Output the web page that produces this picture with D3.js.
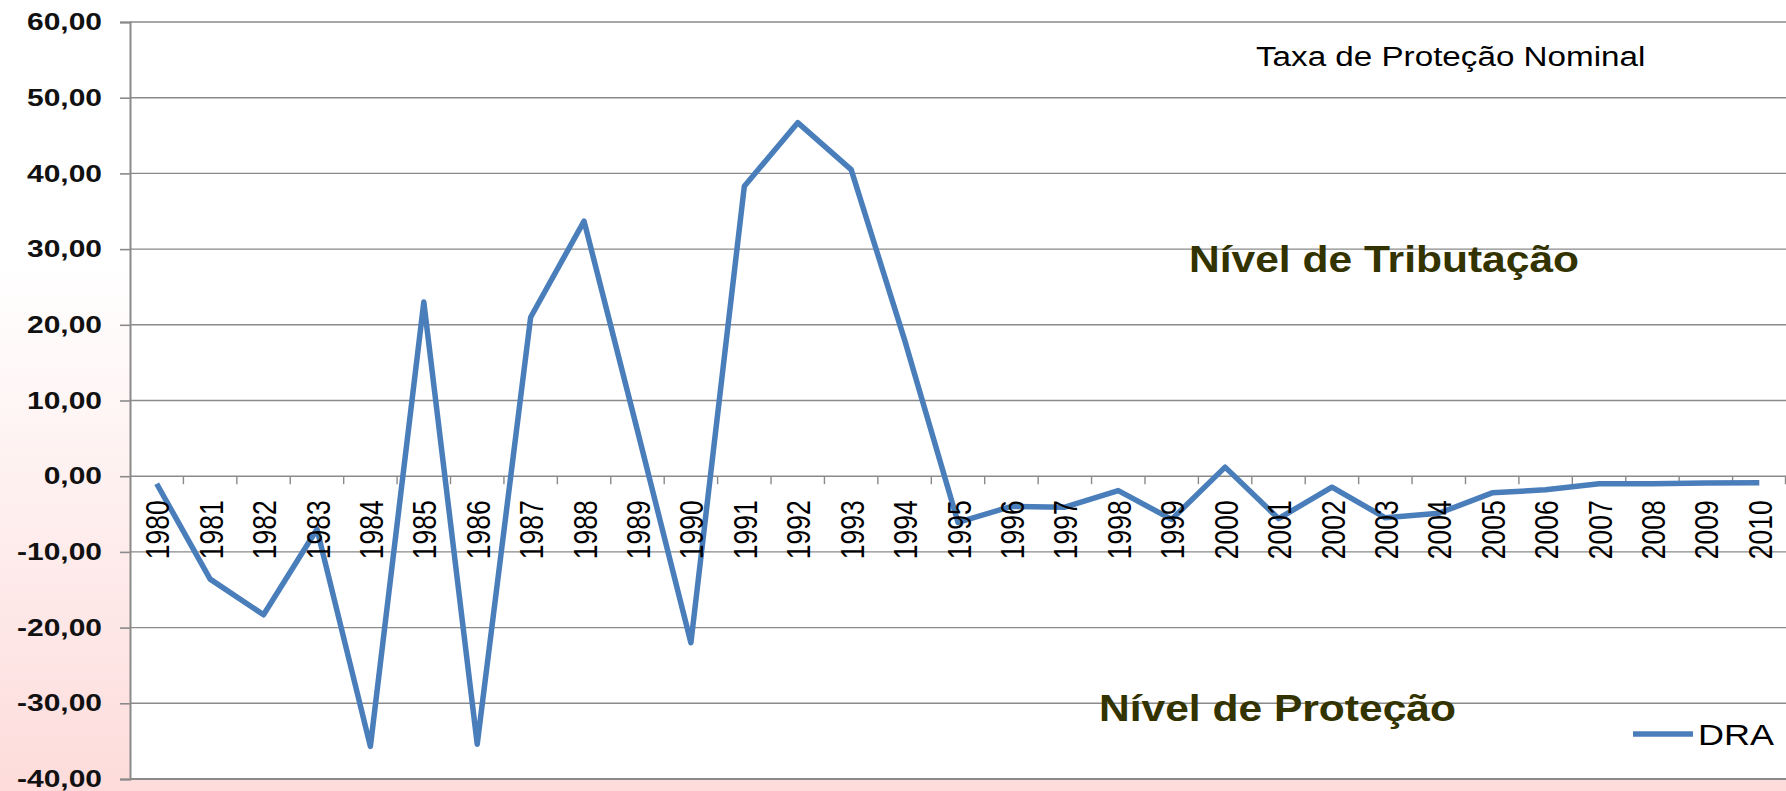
<!DOCTYPE html>
<html>
<head>
<meta charset="utf-8">
<script src="https://cdn.jsdelivr.net/npm/d3@7"></script>
<style>
  html, body { margin: 0; padding: 0; background: #fff; }
  svg { display: block; font-family: "Liberation Sans", Arial, sans-serif; }
</style>
</head>
<body>
<script>
// categories (years) and the DRA series
const years = ["1980", "1981", "1982", "1983", "1984", "1985", "1986", "1987", "1988", "1989",
  "1990", "1991", "1992", "1993", "1994", "1995", "1996", "1997", "1998", "1999",
  "2000", "2001", "2002", "2003", "2004", "2005", "2006", "2007", "2008", "2009", "2010"];
const dra = [-1.0, -13.6, -18.3, -7.0, -35.7, 23.0, -35.4, 21.0, 33.7, 6.0,
  -22.0, 38.3, 46.7, 40.5, 18.0, -6.1, -4.0, -4.1, -1.9, -5.7,
  1.2, -5.6, -1.45, -5.5, -4.9, -2.2, -1.8, -1.0, -1.0, -0.9, -0.85];
const yTicks = [60, 50, 40, 30, 20, 10, 0, -10, -20, -30, -40];
const seriesName = "DRA";
const title = "Taxa de Proteção Nominal";
const upperNote = "Nível de Tributação";
const lowerNote = "Nível de Proteção";

const width = 1786, height = 791;
const margin = {top: 22, right: 0, bottom: 12, left: 130};
const sx = 1.25; // the picture is stretched sideways, so is its text

const svg = d3.select("body").append("svg")
    .attr("width", width)
    .attr("height", height);

// background: white fading to pink at the bottom
const grad = svg.append("defs").append("linearGradient")
    .attr("id", "bg").attr("x1", 0).attr("y1", 0).attr("x2", 0).attr("y2", 1);
grad.append("stop").attr("offset", "0.33").attr("stop-color", "#ffffff");
grad.append("stop").attr("offset", "1").attr("stop-color", "#fddcdb");
svg.append("rect").attr("width", width).attr("height", height).attr("fill", "url(#bg)");

const x = d3.scaleBand()
    .domain(years)
    .range([margin.left, width - margin.right]);

const y = d3.scaleLinear()
    .domain([-40, 60])
    .range([height - margin.bottom, margin.top]);

// plot area
svg.append("rect")
    .attr("x", margin.left).attr("y", margin.top)
    .attr("width", width - margin.right - margin.left)
    .attr("height", y(-40) - y(60))
    .attr("fill", "#fff");

// gridlines
svg.append("g").selectAll("line")
    .data(yTicks)
    .enter().append("line")
    .attr("x1", margin.left).attr("x2", width - margin.right)
    .attr("y1", d => y(d)).attr("y2", d => y(d))
    .attr("stroke", "#8a8a8a")
    .attr("stroke-width", d => d === -40 ? 2 : 1.4);

// left axis
const locale = d3.formatLocale({decimal: ",", thousands: ".", grouping: [3], currency: ["", ""], minus: "-"});
const fmt = locale.format(".2f");
const yAxis = svg.append("g")
    .attr("transform", "translate(" + margin.left + ",0)")
    .call(d3.axisLeft(y).tickValues(yTicks).tickSize(10).tickPadding(18).tickFormat(fmt));
yAxis.attr("font-family", null);
yAxis.select(".domain").attr("stroke", "#8a8a8a").attr("stroke-width", 2);
yAxis.selectAll(".tick line").attr("stroke", "#8a8a8a").attr("stroke-width", 1.6);
yAxis.selectAll(".tick text")
    .attr("font-size", 24)
    .attr("font-weight", "bold")
    .attr("fill", "#111")
    .each(function() {
        const t = d3.select(this);
        t.attr("x", +t.attr("x") / sx).attr("transform", "scale(" + sx + ",1)");
    });

// category ticks on the zero line
svg.append("g").selectAll("line")
    .data(years.slice(1).concat(["end"]))
    .enter().append("line")
    .attr("x1", d => d === "end" ? width - margin.right - 0.5 : x(d))
    .attr("x2", d => d === "end" ? width - margin.right - 0.5 : x(d))
    .attr("y1", y(0)).attr("y2", y(0) + 8)
    .attr("stroke", "#8a8a8a").attr("stroke-width", 1.4);

// the series
const line = d3.line()
    .x((d, i) => x(years[i]) + x.bandwidth() / 2)
    .y(d => y(d));

svg.append("path")
    .datum(dra)
    .attr("d", line)
    .attr("fill", "none")
    .attr("stroke", "#4a7ebb")
    .attr("stroke-width", 5.5)
    .attr("stroke-linejoin", "round");

// year labels, rotated
svg.append("g").selectAll("text")
    .data(years)
    .enter().append("text")
    .attr("transform", d => "translate(" + (x(d) + x.bandwidth() / 2) + "," + (y(0) + 24) + ") scale(" + sx + ",1) rotate(-90)")
    .attr("text-anchor", "end")
    .attr("dy", "0.38em")
    .attr("font-size", 26.5)
    .attr("fill", "#000")
    .text(d => d);

// texts
function stretched(txt, x0, y0, size, weight, color, k) {
    svg.append("text")
        .attr("transform", "translate(" + x0 + "," + y0 + ") scale(" + k + ",1)")
        .attr("font-size", size)
        .attr("font-weight", weight)
        .attr("fill", color)
        .text(txt);
}
stretched(title, 1256, 66, 27, "normal", "#000", 1.23);
stretched(upperNote, 1189, 272, 37, "bold", "#333300", 1.15);
stretched(lowerNote, 1099, 721, 37, "bold", "#333300", 1.15);

// legend
const legend = svg.append("g");
legend.append("line")
    .attr("x1", 1633).attr("x2", 1693)
    .attr("y1", 734).attr("y2", 734)
    .attr("stroke", "#4a7ebb").attr("stroke-width", 5.5);
legend.append("text")
    .attr("transform", "translate(1698,745) scale(1.2,1)")
    .attr("font-size", 30)
    .attr("fill", "#000")
    .text(seriesName);
</script>
</body>
</html>
